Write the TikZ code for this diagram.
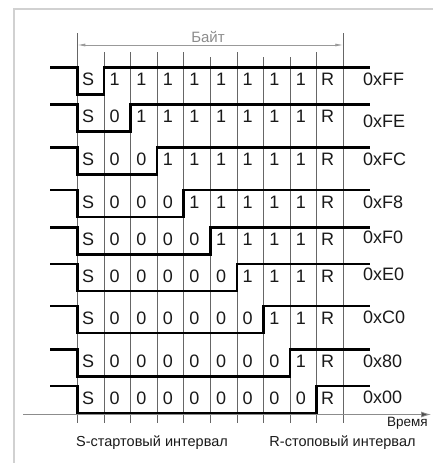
\documentclass[tikz,border=0pt]{standalone}
\usepackage{fontspec}
\setmainfont{Liberation Sans}
\usetikzlibrary{arrows.meta}
\begin{document}
\begin{tikzpicture}[x=1pt,y=-1pt,
  frame/.style={draw=black!18, line width=1.3pt},
  gridline/.style={draw=black!60, line width=0.7pt},
  signal/.style={draw=black, line width=2.7pt, line join=miter},
  bit/.style={font=\fontsize{18}{18}\selectfont, inner sep=0pt, text=black!90},
  hexlabel/.style={font=\fontsize{18}{18}\selectfont, inner sep=0pt, anchor=west, text=black!90},
  note/.style={font=\fontsize{14.5}{14.5}\selectfont, inner sep=0pt, text=black!90},
  bytearrow/.style={draw=black!40, line width=0.8pt, {Latex[length=8pt,width=3pt]}-{Latex[length=8pt,width=3pt]}},
  axis/.style={draw=black!45, line width=0.8pt, -{Latex[length=10pt,width=6pt,fill=black!70]}}
]
\useasboundingbox (0,0) rectangle (433,463);
% frame
\draw[frame] (14,463) -- (14,9) -- (433,9);
% grid
\foreach \k in {0,...,10}{
  \pgfmathsetmacro{\gx}{77.3+\k*26.6}
  \ifnum\k=0 \def\gy{33}\else\ifnum\k=10 \def\gy{33}\else
    \ifnum\k=5 \def\gy{57}\else\ifnum\k=7 \def\gy{57}\else\ifnum\k=8 \def\gy{57}\else\def\gy{52}\fi\fi\fi\fi\fi
  \draw[gridline] (\gx,\gy) -- (\gx,423);
}
% byte arrow
\coordinate (bs) at (77.3,45);
\coordinate (be) at (343.3,45);
\draw[bytearrow] (bs) -- (be);
\node[font=\fontsize{15}{15}\selectfont, text=black!45, inner sep=0pt] (byte) at (208,37) {Байт};
% axis
\coordinate (ax0) at (23,414.5);
\coordinate (ax1) at (431,414.5);
\draw[axis] (ax0) -- (ax1);
\node[font=\fontsize{13.5}{13.5}\selectfont, anchor=east, inner sep=0pt, text=black!90] (time) at (428,423) {Время};
% rows
\foreach \r/\h/\ly in {1/67.3/79, 2/104.3/121, 3/147.7/159, 4/190/202, 5/227.3/237.5, 6/264/274, 7/306/317.5, 8/349.3/361, 9/386/397.5}{
  \pgfmathsetmacro{\tx}{77.3+\r*26.6}
  \pgfmathsetmacro{\lo}{\h+27}
  \draw[signal] (50,\h) -- (77.3,\h) -- (77.3,\lo) -- (\tx,\lo) -- (\tx,\h) -- (370,\h);
  \foreach \k in {0,...,9}{
    \pgfmathsetmacro{\bx}{77.3+\k*26.6+13.3-2.5}
    \node[bit] (b\r-\k) at (\bx,\h+12) {\ifnum\k=0 S\else\ifnum\k=9 R\else\ifnum\k<\r\relax 0\else 1\fi\fi\fi};
  }
}
\node[hexlabel] (hex1) at (363,79) {0xFF};
\node[hexlabel] (hex2) at (363,121) {0xFE};
\node[hexlabel] (hex3) at (363,159) {0xFC};
\node[hexlabel] (hex4) at (363,202) {0xF8};
\node[hexlabel] (hex5) at (363,237.5) {0xF0};
\node[hexlabel] (hex6) at (363,274) {0xE0};
\node[hexlabel] (hex7) at (363,317.5) {0xC0};
\node[hexlabel] (hex8) at (363,361) {0x80};
\node[hexlabel] (hex9) at (363,397.5) {0x00};
% bottom notes
\node[note] (snote) at (152,443) {S-стартовый интервал};
\node[note] (rnote) at (342.5,443) {R-стоповый интервал};
\end{tikzpicture}
\end{document}
